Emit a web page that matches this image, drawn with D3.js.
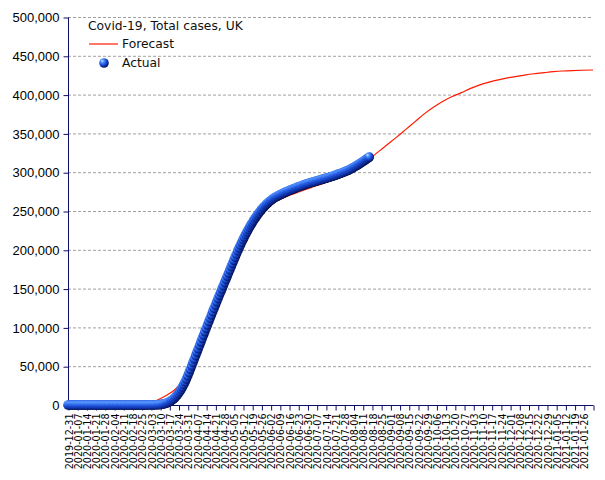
<!DOCTYPE html>
<html>
<head>
<meta charset="utf-8">
<script src="https://cdn.jsdelivr.net/npm/d3@7"></script>
<style>
  html, body { margin: 0; padding: 0; background: #fff; }
  svg { display: block; }
</style>
</head>
<body>
<svg id="chart" width="605" height="480"></svg>
<script>
// ---------- DATA ----------
const title = "Covid-19, Total cases, UK";
const seriesNames = ["Forecast", "Actual"];

// Actual: daily cumulative cases starting on this date
const actualStart = "2019-12-31";
const actualValues = [
  // 2019-12-31 .. 2020-01-30
  0,0,0,0,0,0,0,0,0,0,0,0,0,0,0,0,0,0,0,0,0,0,0,0,0,0,0,0,0,0,0,
  // 2020-01-31
  2,
  // February
  2,2,2,2,2,3,3,3,3,8,8,9,9,9,9,9,9,9,9,9,9,9,13,13,13,13,15,20,23,
  // March
  40,50,70,100,140,190,250,320,420,550,750,1000,1400,1900,2500,3200,4000,5000,6200,7500,
  9000,10800,12800,15000,17500,20200,23200,26400,29800,33500,37500,
  // April
  41700,46000,50400,54800,59200,63600,68000,72400,76800,81200,85600,90000,94400,98800,103100,
  107400,111700,116000,120300,124500,128700,132900,137100,141300,145400,149500,153600,157700,161800,165900,
  // May
  170000,174100,178200,182300,186400,190500,194500,198500,202300,206000,209600,213100,216500,219800,223000,
  226100,229100,232000,234800,237500,240100,242600,245000,247300,249500,251600,253600,255500,257300,259000,260600,
  // June
  262100,263500,264800,266000,267100,268100,269000,269900,270800,271600,272400,273200,274000,274800,275500,
  276200,276900,277600,278300,279000,279700,280400,281000,281600,282200,282800,283400,284000,284600,285200,
  // July
  285700,286200,286700,287200,287700,288200,288700,289200,289700,290200,290700,291200,291700,292200,292700,
  293200,293700,294200,294800,295400,296000,296600,297200,297800,298400,299000,299700,300400,301100,301800,302500,
  // August 1 .. 16
  303300,304200,305100,306100,307100,308100,309100,310200,311300,312400,313500,314700,315900,317100,318300,319500
];

// Forecast curve
const forecastDates = [
  "2019-12-31","2020-02-15","2020-02-25","2020-03-01","2020-03-08","2020-03-15","2020-03-22","2020-03-29",
  "2020-04-05","2020-04-12","2020-04-19","2020-04-26","2020-05-03","2020-05-10","2020-05-17","2020-05-24",
  "2020-05-31","2020-06-07","2020-06-14","2020-06-21","2020-06-28","2020-07-05","2020-07-12","2020-07-19",
  "2020-07-26","2020-08-02","2020-08-09","2020-08-16","2020-08-23","2020-08-30","2020-09-06","2020-09-13",
  "2020-09-20","2020-09-27","2020-10-04","2020-10-11","2020-10-18","2020-10-25","2020-11-01","2020-11-08",
  "2020-11-15","2020-11-22","2020-11-29","2020-12-06","2020-12-13","2020-12-20","2020-12-27","2021-01-03",
  "2021-01-10","2021-01-17","2021-01-24","2021-02-02"
];
const forecastValues = [
  0,0,500,2000,6500,12500,21000,36000,
  62000,92000,122000,151000,180000,206000,228000,245000,
  256000,263000,268500,273000,277500,281500,285500,290000,
  295000,301000,308000,317000,326500,336000,345500,355500,
  365500,375500,384000,391500,397500,402500,408000,412500,
  416000,419000,421500,423500,425500,427000,428300,429500,
  430400,431000,431400,431700
];

const yTicks = [0,50000,100000,150000,200000,250000,300000,350000,400000,450000,500000];
const xDomain = ["2019-12-31","2021-02-02"];

// ---------- CHART ----------
const parse = d3.utcParse("%Y-%m-%d");
const fmtDate = d3.utcFormat("%Y-%m-%d");
const svg = d3.select("#chart");
const axisColor = "#0c0c6a";

const x = d3.scaleUtc().domain(xDomain.map(parse)).range([68, 593]);
const y = d3.scaleLinear().domain([0, 500000]).range([405, 17]);

const start = parse(actualStart);
const actual = actualValues.map((v, i) => ({ date: d3.utcDay.offset(start, i), value: v }));
const forecast = forecastDates.map((d, i) => ({ date: parse(d), value: forecastValues[i] }));

// gradient for 3D balls
const defs = svg.append("defs");
const grad = defs.append("radialGradient").attr("id", "ball")
  .attr("cx", "38%").attr("cy", "35%").attr("r", "68%").attr("fx", "30%").attr("fy", "27%");
grad.append("stop").attr("offset", "0%").attr("stop-color", "#d6ecff");
grad.append("stop").attr("offset", "22%").attr("stop-color", "#5a9bff");
grad.append("stop").attr("offset", "55%").attr("stop-color", "#1e54e0");
grad.append("stop").attr("offset", "82%").attr("stop-color", "#0c2a96");
grad.append("stop").attr("offset", "100%").attr("stop-color", "#030c45");

// gridlines
svg.append("g").selectAll("line")
  .data(yTicks.filter(d => d > 0))
  .join("line")
  .attr("x1", x.range()[0]).attr("x2", x.range()[1])
  .attr("y1", d => y(d) + 0.5).attr("y2", d => y(d) + 0.5)
  .attr("stroke", "#a0a0a0").attr("stroke-width", 1).attr("stroke-dasharray", "3,2");

// y axis
const yAxis = svg.append("g")
  .attr("transform", `translate(${x.range()[0] + 0.5},0.5)`)
  .call(d3.axisLeft(y).tickValues(yTicks).tickSize(5).tickPadding(4).tickFormat(d3.format(",")));
yAxis.select(".domain").attr("stroke", axisColor).attr("d", `M0,${y(0)}V${y(500000)}`);
yAxis.selectAll(".tick line").attr("stroke", axisColor);
yAxis.selectAll(".tick text").attr("fill", "#000")
  .style("font-family", "'Liberation Sans', Arial, sans-serif").style("font-size", "13px");

// x axis
const tickDates = d3.utcTuesday.range(parse("2019-12-31"), d3.utcDay.offset(parse("2021-02-02"), 1));
const lastTick = tickDates[tickDates.length - 1];
const xAxis = svg.append("g")
  .attr("transform", `translate(0.5,${y(0) + 0.5})`)
  .call(d3.axisBottom(x).tickValues(tickDates).tickSize(5)
    .tickFormat(d => (+d === +lastTick ? "" : fmtDate(d))));
xAxis.select(".domain").attr("stroke", axisColor).attr("d", `M${x.range()[0]},0H${x.range()[1]}`);
xAxis.selectAll(".tick line").attr("stroke", axisColor);
xAxis.selectAll(".tick text")
  .attr("fill", "#000")
  .attr("text-anchor", "end")
  .attr("transform", "rotate(-90)")
  .attr("x", -8).attr("y", 0).attr("dy", "0.38em")
  .style("font-family", "'DejaVu Sans', Verdana, sans-serif").style("font-size", "9.6px");

// forecast line
svg.append("path")
  .datum(forecast)
  .attr("fill", "none").attr("stroke", "#ff1a00").attr("stroke-width", 1.2)
  .attr("d", d3.line().x(d => x(d.date)).y(d => y(d.value)).curve(d3.curveMonotoneX));

// actual points
svg.append("g").selectAll("circle")
  .data(actual)
  .join("circle")
  .attr("cx", d => x(d.date)).attr("cy", d => y(d.value)).attr("r", 4.8)
  .attr("fill", "url(#ball)");

// legend
const lg = svg.append("g").style("font-family", "'DejaVu Sans', Verdana, sans-serif").style("font-size", "12.3px");
lg.append("text").attr("x", 88).attr("y", 30).attr("fill", "#111").text(title);
lg.append("line").attr("x1", 89).attr("x2", 118).attr("y1", 44).attr("y2", 44)
  .attr("stroke", "#ff1a00").attr("stroke-width", 1.2);
lg.append("text").attr("x", 122).attr("y", 48).attr("fill", "#111").text(seriesNames[0]);
lg.append("circle").attr("cx", 104).attr("cy", 63).attr("r", 4.8).attr("fill", "url(#ball)");
lg.append("text").attr("x", 122).attr("y", 67).attr("fill", "#111").text(seriesNames[1]);
</script>
</body>
</html>
